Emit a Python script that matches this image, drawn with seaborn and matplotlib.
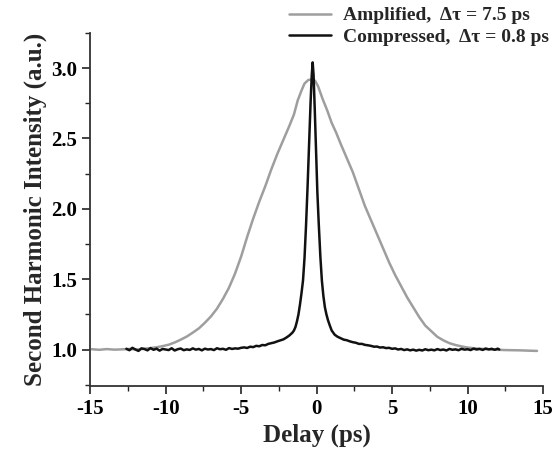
import numpy as np
import pandas as pd
import matplotlib
matplotlib.use('Agg')
import matplotlib.pyplot as plt
import seaborn as sns

# ==============================================
# data
amp_label = 'Amplified,  Δτ = 7.5 ps'
comp_label = 'Compressed,  Δτ = 0.8 ps'

amp_delay = [-14.9, -14.4, -13.9, -13.4, -12.9, -12.4, -11.9, -11.4, -11.0, -10.6, -10.2,
             -9.8, -9.4, -9.0, -8.6, -8.2, -7.8, -7.4, -7.0, -6.6, -6.2, -5.8, -5.4,
             -5.0, -4.6, -4.2, -3.8, -3.4, -3.0, -2.6, -2.2, -1.8, -1.5, -1.25, -1.0,
             -0.8, -0.55, -0.3, -0.1, 0.1, 0.4, 0.7, 1.0, 1.3, 1.6, 2.0, 2.4, 2.8, 3.2,
             3.6, 4.0, 4.4, 4.8, 5.2, 5.6, 6.0, 6.4, 6.8, 7.2, 7.6, 8.0, 8.4, 8.8, 9.2,
             9.6, 10.0, 10.5, 11.0, 11.5, 12.0, 12.5, 13.0, 13.5, 14.0, 14.6]
amp_signal = [1.002, 0.998, 1.003, 0.999, 1.001, 1.004, 1.0, 1.006, 1.01, 1.016, 1.024,
              1.034, 1.05, 1.07, 1.092, 1.12, 1.15, 1.19, 1.235, 1.29, 1.36, 1.44, 1.54,
              1.66, 1.80, 1.93, 2.05, 2.16, 2.28, 2.39, 2.49, 2.59, 2.67, 2.77, 2.84,
              2.89, 2.915, 2.92, 2.91, 2.87, 2.78, 2.70, 2.61, 2.54, 2.46, 2.36, 2.26,
              2.14, 2.02, 1.92, 1.82, 1.72, 1.62, 1.53, 1.45, 1.37, 1.30, 1.23, 1.17,
              1.13, 1.09, 1.065, 1.045, 1.032, 1.022, 1.014, 1.008, 1.004, 1.0, 0.998,
              0.996, 0.995, 0.994, 0.992, 0.99]

comp_delay = [-12.6, -12.4, -12.2, -12.0, -11.8, -11.6, -11.4, -11.2, -11.0, -10.8,
              -10.6, -10.4, -10.2, -10.0, -9.8, -9.6, -9.4, -9.2, -9.0, -8.8, -8.6,
              -8.4, -8.2, -8.0, -7.8, -7.6, -7.4, -7.2, -7.0, -6.8, -6.6, -6.4, -6.2,
              -6.0, -5.8, -5.6, -5.4, -5.2, -5.0, -4.8, -4.6, -4.4, -4.2, -4.0, -3.8,
              -3.6, -3.4, -3.2, -3.0, -2.8, -2.6, -2.4, -2.2, -2.0, -1.8, -1.6, -1.5,
              -1.4, -1.3, -1.2, -1.1, -1.0, -0.9, -0.8, -0.7, -0.6, -0.5, -0.4, -0.32,
              -0.26, -0.2, -0.12, -0.04, 0.05, 0.14, 0.25, 0.35, 0.45, 0.55, 0.65, 0.75,
              0.86, 1.0, 1.2, 1.4, 1.6, 1.8, 2.0, 2.2, 2.4, 2.6, 2.8, 3.0, 3.2, 3.4, 3.6,
              3.8, 4.0, 4.2, 4.4, 4.6, 4.8, 5.0, 5.2, 5.4, 5.6, 5.8, 6.0, 6.2, 6.4, 6.6,
              6.8, 7.0, 7.2, 7.4, 7.6, 7.8, 8.0, 8.2, 8.4, 8.6, 8.8, 9.0, 9.2, 9.4, 9.6,
              9.8, 10.0, 10.2, 10.4, 10.6, 10.8, 11.0, 11.2, 11.4, 11.6, 11.8, 12.0, 12.1]
comp_signal = [1.005, 0.995, 1.012, 1.0, 0.99, 1.008, 1.003, 0.994, 1.01, 0.998,
               1.006, 0.992, 1.004, 1.0, 0.996, 1.009, 0.993, 1.002, 1.007, 0.995,
               1.001, 0.997, 1.008, 0.999, 1.004, 0.994, 1.006, 1.0, 1.003, 0.996,
               1.009, 1.002, 1.005, 0.998, 1.01, 1.004, 1.008, 1.006, 1.012, 1.015,
               1.011, 1.02, 1.017, 1.026, 1.023, 1.032, 1.03, 1.04, 1.045, 1.05, 1.058,
               1.065, 1.072, 1.085, 1.10, 1.12, 1.135, 1.16, 1.20, 1.25, 1.32, 1.40,
               1.49, 1.65, 1.88, 2.15, 2.45, 2.75, 2.95, 3.04, 2.95, 2.70, 2.42, 2.12,
               1.90, 1.66, 1.49, 1.38, 1.30, 1.25, 1.21, 1.175, 1.135, 1.105, 1.09, 1.08,
               1.07, 1.066, 1.058, 1.052, 1.048, 1.04, 1.04, 1.033, 1.03, 1.026, 1.02,
               1.021, 1.014, 1.016, 1.01, 1.012, 1.005, 1.008, 1.0, 1.004, 0.996, 1.001,
               0.994, 0.999, 0.992, 0.998, 0.993, 1.002, 0.995, 0.999, 0.994, 1.003,
               0.996, 1.0, 0.993, 1.004, 0.998, 1.001, 0.995, 1.005, 0.999, 1.002,
               0.996, 1.006, 1.0, 1.004, 0.997, 1.007, 1.001, 1.005, 0.998, 1.006, 1.0]

# ==============================================
df = pd.concat([
    pd.DataFrame({'delay': amp_delay, 'signal': amp_signal, 'trace': amp_label}),
    pd.DataFrame({'delay': comp_delay, 'signal': comp_signal, 'trace': comp_label}),
], ignore_index=True)

sns.set_style('ticks')
plt.rcParams['font.family'] = ['Liberation Serif', 'DejaVu Serif']
plt.rcParams['font.weight'] = 'bold'
plt.rcParams['axes.labelweight'] = 'bold'
plt.rcParams['axes.unicode_minus'] = False

fig = plt.figure(figsize=(5.53, 4.5), dpi=100)
ax = fig.add_axes([0.163, 0.142, 0.819, 0.785])

sns.lineplot(data=df, x='delay', y='signal', hue='trace',
             palette={amp_label: '#9e9e9e', comp_label: '#111111'},
             estimator=None, sort=False, linewidth=1.8, ax=ax)

ax.set_xlim(-15, 15)
ax.set_ylim(0.74, 3.25)
ax.set_xticks(np.arange(-15, 16, 5))
ax.set_xticks(np.arange(-15, 16, 2.5), minor=True)
ax.set_yticks([1.0, 1.5, 2.0, 2.5, 3.0])
ax.set_yticks(np.arange(0.75, 3.26, 0.25), minor=True)
ax.set_yticklabels(['1.0', '1.5', '2.0', '2.5', '3.0'])
ax.tick_params(which='major', direction='out', length=6, width=1.2, labelsize=15, colors='#222222')
ax.tick_params(which='minor', direction='out', length=3.5, width=1.0, colors='#222222')
for lab in ax.get_xticklabels() + ax.get_yticklabels():
    lab.set_fontweight('bold')
    lab.set_color('black')

sns.despine(ax=ax)
for side in ['left', 'bottom']:
    ax.spines[side].set_linewidth(1.3)
    ax.spines[side].set_color('#333333')

ax.set_xlabel('Delay (ps)', fontsize=18, fontweight='bold', labelpad=3)
ax.set_ylabel('Second Harmonic Intensity (a.u.)', fontsize=18, fontweight='bold', labelpad=3)

ax.get_legend().remove()
handles, labels = ax.get_legend_handles_labels()
fig.legend(handles, labels, loc='upper left', bbox_to_anchor=(0.522, 0.985),
           frameon=False, borderpad=0, borderaxespad=0, handlelength=2.2,
           handletextpad=0.6, labelspacing=0.2,
           prop={'family': 'Liberation Serif', 'weight': 'bold', 'size': 14})

plt.savefig('out.png', dpi=100)
